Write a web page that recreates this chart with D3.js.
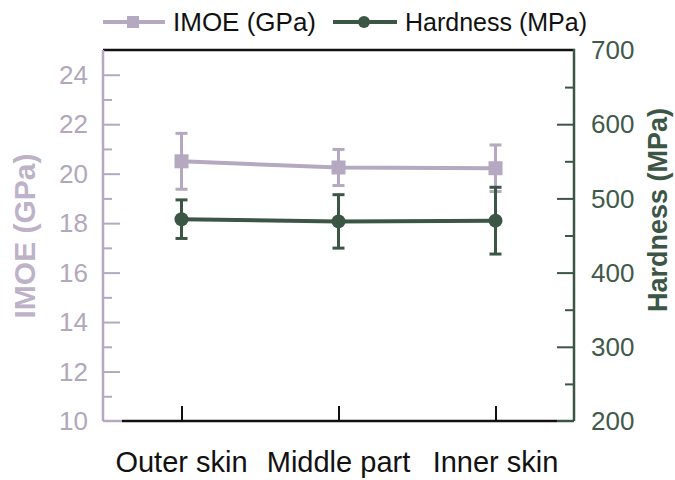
<!DOCTYPE html>
<html><head><meta charset="utf-8">
<script src="https://cdn.jsdelivr.net/npm/d3@7"></script>
<style>body{margin:0;background:#fff}svg{display:block;font-family:"Liberation Sans",Arial,sans-serif}</style>
</head><body><svg id="c" width="675" height="480"></svg>
<script>
const categories = ["Outer skin", "Middle part", "Inner skin"];
const imoeMean = [20.5, 20.25, 20.22];
const imoeErr = [1.13, 0.73, 0.94];
const hardMean = [472, 469, 470];
const hardErr = [26, 36, 45];
const leftTicks = [10, 12, 14, 16, 18, 20, 22, 24];
const rightTicks = [200, 300, 400, 500, 600, 700];
const seriesNames = ["IMOE (GPa)", "Hardness (MPa)"];

const purple = "#b5a9c1", green = "#3c5646";
const svg = d3.select("#c");
const L = 103, R = 574, T = 50, B = 421;
const x = d3.scalePoint().domain(categories).range([L, R]).padding(0.5);
const y1 = d3.scaleLinear().domain([10, 25]).range([B, T]);
const y2 = d3.scaleLinear().domain([200, 700]).range([B, T]);

// top border
svg.append("line").attr("x1", L).attr("x2", R + 1).attr("y1", T).attr("y2", T).attr("stroke", "#111").attr("stroke-width", 2.5);

// left axis
const la = svg.append("g").attr("transform", `translate(${L},0)`)
  .call(d3.axisRight(y1).tickValues(d3.range(11, 25, 2)).tickSize(9).tickFormat(""));
la.call(g => g.select(".domain").remove());
la.selectAll("line").attr("stroke", purple).attr("stroke-width", 2);
const la2 = svg.append("g").attr("transform", `translate(${L},0)`)
  .call(d3.axisRight(y1).tickValues(leftTicks.filter(d => d > 10)).tickSize(17).tickFormat(""));
la2.call(g => g.select(".domain").remove());
la2.selectAll("line").attr("stroke", purple).attr("stroke-width", 2);
svg.append("line").attr("x1", L).attr("x2", L).attr("y1", T).attr("y2", B).attr("stroke", purple).attr("stroke-width", 2.5);
svg.append("line").attr("x1", L).attr("x2", 122).attr("y1", B).attr("y2", B).attr("stroke", purple).attr("stroke-width", 2.5);
svg.append("g").selectAll("text").data(leftTicks).join("text")
  .attr("x", 88).attr("y", d => y1(d)).attr("dy", "0.35em").attr("text-anchor", "end")
  .attr("font-size", 26).attr("fill", "#b2a8bc").text(d => d);

// right axis
const ra = svg.append("g").attr("transform", `translate(${R},0)`)
  .call(d3.axisLeft(y2).tickValues(d3.range(250, 700, 100)).tickSize(9).tickFormat(""));
ra.call(g => g.select(".domain").remove());
ra.selectAll("line").attr("stroke", green).attr("stroke-width", 2);
const ra2 = svg.append("g").attr("transform", `translate(${R},0)`)
  .call(d3.axisLeft(y2).tickValues(rightTicks.filter(d => d > 200 && d < 700)).tickSize(17).tickFormat(""));
ra2.call(g => g.select(".domain").remove());
ra2.selectAll("line").attr("stroke", green).attr("stroke-width", 2);
svg.append("line").attr("x1", R).attr("x2", R).attr("y1", T - 1).attr("y2", B).attr("stroke", green).attr("stroke-width", 2.5);
svg.append("line").attr("x1", 557).attr("x2", R).attr("y1", B).attr("y2", B).attr("stroke", green).attr("stroke-width", 2.5);
svg.append("g").selectAll("text").data(rightTicks).join("text")
  .attr("x", 591).attr("y", d => y2(d)).attr("dy", "0.35em").attr("text-anchor", "start")
  .attr("font-size", 26).attr("fill", "#3f5a49").text(d => d);

// bottom axis
svg.append("line").attr("x1", 122).attr("x2", 557).attr("y1", B).attr("y2", B).attr("stroke", "#111").attr("stroke-width", 2.5);
const ba = svg.append("g").attr("transform", `translate(0,${B})`)
  .call(d3.axisTop(x).tickSize(15).tickFormat(""));
ba.call(g => g.select(".domain").remove());
ba.selectAll("line").attr("stroke", "#111").attr("stroke-width", 2);
svg.append("g").selectAll("text").data(categories).join("text")
  .attr("x", d => x(d)).attr("y", 472).attr("text-anchor", "middle")
  .attr("font-size", 29).attr("fill", "#111").text(d => d);

// axis titles
svg.append("text").attr("transform", "translate(35,236) rotate(-90)").attr("text-anchor", "middle")
  .attr("font-size", 30).attr("font-weight", "bold").attr("fill", "#bdb2c7").text(seriesNames[0]);
svg.append("text").attr("transform", "translate(667,210) rotate(-90)").attr("text-anchor", "middle")
  .attr("font-size", 27).attr("font-weight", "bold").attr("fill", "#3c5646").text(seriesNames[1]);

// IMOE series
const g1 = svg.append("g");
const line1 = d3.line().x((d, i) => x(categories[i])).y(d => y1(d));
g1.append("path").datum(imoeMean).attr("d", line1).attr("fill", "none").attr("stroke", purple).attr("stroke-width", 4);
imoeMean.forEach((m, i) => {
  const cx = x(categories[i]);
  const lo = y1(m - imoeErr[i]), hi = y1(m + imoeErr[i]);
  g1.append("line").attr("x1", cx).attr("x2", cx).attr("y1", lo).attr("y2", hi).attr("stroke", purple).attr("stroke-width", 3);
  [lo, hi].forEach(yy => g1.append("line").attr("x1", cx - 6).attr("x2", cx + 6).attr("y1", yy).attr("y2", yy).attr("stroke", purple).attr("stroke-width", 3));
  g1.append("rect").attr("x", cx - 7).attr("y", y1(m) - 7).attr("width", 14).attr("height", 14).attr("fill", purple);
});

// Hardness series
const g2 = svg.append("g");
const line2 = d3.line().x((d, i) => x(categories[i])).y(d => y2(d));
g2.append("path").datum(hardMean).attr("d", line2).attr("fill", "none").attr("stroke", green).attr("stroke-width", 4);
hardMean.forEach((m, i) => {
  const cx = x(categories[i]);
  const lo = y2(m - hardErr[i]), hi = y2(m + hardErr[i]);
  g2.append("line").attr("x1", cx).attr("x2", cx).attr("y1", lo).attr("y2", hi).attr("stroke", green).attr("stroke-width", 3);
  [lo, hi].forEach(yy => g2.append("line").attr("x1", cx - 6).attr("x2", cx + 6).attr("y1", yy).attr("y2", yy).attr("stroke", green).attr("stroke-width", 3));
  g2.append("circle").attr("cx", cx).attr("cy", y2(m)).attr("r", 7).attr("fill", green);
});

// legend
const lg = svg.append("g");
lg.append("line").attr("x1", 103).attr("x2", 165).attr("y1", 22).attr("y2", 22).attr("stroke", purple).attr("stroke-width", 4);
lg.append("rect").attr("x", 127).attr("y", 16).attr("width", 12).attr("height", 12).attr("fill", purple);
lg.append("text").attr("x", 173).attr("y", 31).attr("font-size", 26).attr("fill", "#111").text(seriesNames[0]);
lg.append("line").attr("x1", 333).attr("x2", 397).attr("y1", 22).attr("y2", 22).attr("stroke", green).attr("stroke-width", 4);
lg.append("circle").attr("cx", 364).attr("cy", 22).attr("r", 6).attr("fill", green);
lg.append("text").attr("x", 405).attr("y", 31).attr("font-size", 25).attr("fill", "#111").text(seriesNames[1]);
</script></body></html>
